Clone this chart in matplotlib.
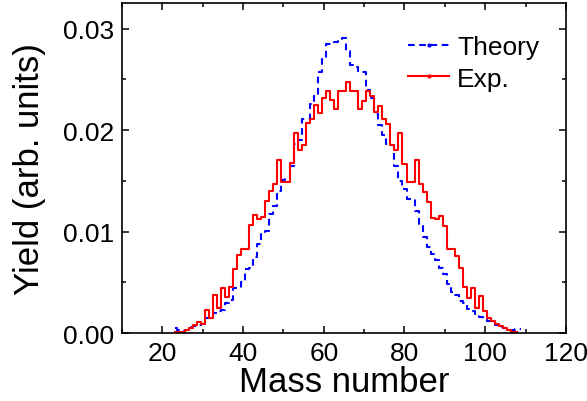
import numpy as np
import matplotlib
matplotlib.use("Agg")
import matplotlib.pyplot as plt
from matplotlib.lines import Line2D
from matplotlib.ticker import MultipleLocator

# DATA
exp_mass = np.arange(23, 109)
exp_yield = [0.0001, 0.0001, 0.0001, 0.0003, 0.0005, 0.0008, 0.0011, 0.0009, 0.0023, 0.0015,
             0.0038, 0.0025, 0.0044, 0.0036, 0.0045, 0.0063, 0.0077, 0.0083, 0.0083, 0.0107,
             0.0116, 0.0112, 0.0114, 0.0130, 0.0140, 0.0147, 0.0171, 0.0149, 0.0149, 0.0168,
             0.0197, 0.0180, 0.0185, 0.0207, 0.0211, 0.0225, 0.0217, 0.0232, 0.0239, 0.0230,
             0.0221, 0.0239, 0.0239, 0.0248, 0.0239, 0.0239, 0.0221, 0.0229, 0.0239, 0.0234,
             0.0218, 0.0224, 0.0211, 0.0206, 0.0185, 0.0180, 0.0197, 0.0167, 0.0149, 0.0149,
             0.0171, 0.0147, 0.0139, 0.0129, 0.0113, 0.0112, 0.0115, 0.0106, 0.0083, 0.0083,
             0.0076, 0.0064, 0.0045, 0.0035, 0.0044, 0.0025, 0.0037, 0.0022, 0.0015, 0.0012,
             0.0009, 0.0007, 0.0005, 0.0003, 0.0001, 0.0001]

theo_mass = np.arange(23, 110)
theo_yield = [0.0005, 0.0003, 0.0002, 0.0003, 0.0006, 0.0007, 0.0008, 0.0009, 0.0015, 0.0016,
              0.0020, 0.0022, 0.0023, 0.0030, 0.0033, 0.0044, 0.0044, 0.0050, 0.0063, 0.0064,
              0.0075, 0.0088, 0.0099, 0.0101, 0.0117, 0.0125, 0.0140, 0.0151, 0.0152, 0.0165,
              0.0186, 0.0190, 0.0211, 0.0211, 0.0226, 0.0236, 0.0257, 0.0270, 0.0285, 0.0285,
              0.0287, 0.0289, 0.0291, 0.0278, 0.0264, 0.0262, 0.0257, 0.0257, 0.0240, 0.0232,
              0.0216, 0.0205, 0.0195, 0.0186, 0.0185, 0.0165, 0.0150, 0.0142, 0.0132, 0.0132,
              0.0120, 0.0107, 0.0095, 0.0085, 0.0078, 0.0072, 0.0064, 0.0058, 0.0048, 0.0040,
              0.0038, 0.0032, 0.0030, 0.0024, 0.0022, 0.0019, 0.0016, 0.0014, 0.0012, 0.0010,
              0.0008, 0.0006, 0.0005, 0.0003, 0.0003, 0.0004, 0.0004]

legend_names = ["Theory", "Exp."]

plt.rcParams['font.family'] = ['Liberation Sans', 'DejaVu Sans']

TICK_FONTSIZE = 19
AXIS_FONTSIZE = 25
LW = 1.5
DASH = (0, (3.2, 2.2))

fig = plt.figure(figsize=(5.87, 4.02), dpi=100)
ax = fig.add_axes([0.208, 0.169, 0.756, 0.820])

ax.step(theo_mass, theo_yield, where='mid', color='blue', linestyle=DASH, linewidth=LW)
ax.step(exp_mass, exp_yield, where='mid', color='red', linestyle='-', linewidth=LW)

ax.set_xlim(10, 120)
ax.set_ylim(0, 0.0325)
ax.xaxis.set_major_locator(MultipleLocator(20))
ax.xaxis.set_minor_locator(MultipleLocator(10))
ax.yaxis.set_major_locator(MultipleLocator(0.01))
ax.yaxis.set_minor_locator(MultipleLocator(0.005))
ax.yaxis.set_major_formatter(matplotlib.ticker.FormatStrFormatter('%.2f'))

ax.tick_params(which='both', direction='in', top=True, right=True, width=1.1)
ax.tick_params(which='major', length=5, labelsize=TICK_FONTSIZE, pad=6)
ax.tick_params(which='minor', length=3)
for s in ax.spines.values():
  s.set_linewidth(1.2)

ax.set_xlabel("Mass number", fontsize=AXIS_FONTSIZE, labelpad=0)
ax.set_ylabel("Yield (arb. units)", fontsize=AXIS_FONTSIZE, labelpad=12)

handles = [Line2D([], [], color='blue', linestyle=DASH, linewidth=LW, marker='.', markersize=4),
           Line2D([], [], color='red', linestyle='-', linewidth=LW, marker='.', markersize=4)]
ax.legend(handles, legend_names, loc='upper left', bbox_to_anchor=(0.645, 0.905), frameon=False,
          fontsize=TICK_FONTSIZE, handlelength=1.55, handletextpad=0.3, labelspacing=0.3,
          borderpad=0, borderaxespad=0)

plt.savefig("out.png", dpi=100)
